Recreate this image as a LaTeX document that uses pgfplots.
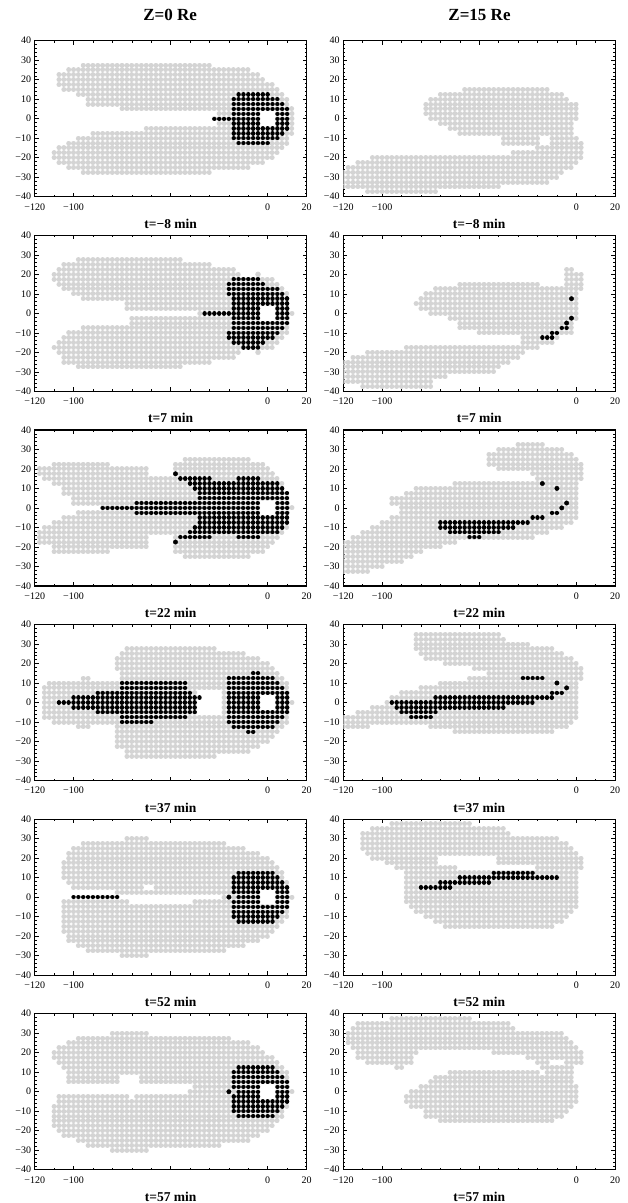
\documentclass[border=0pt]{standalone}
\usepackage{fontspec}
\setmainfont{Liberation Serif}
\usepackage{pgfplots}
\pgfplotsset{compat=1.18}
\definecolor{lgray}{RGB}{212,212,212}
\pgfplotsset{
  panel/.style={
    anchor=north west,
    x=1.942pt, y=1.95pt,
    xmin=-120, xmax=20, ymin=-40, ymax=40,
    axis line style={line width=1.2pt},
    tick align=inside,
    xtick={-120,-100,-50,0,20},
    xticklabels={−120,−100,,0,20},
    minor xtick={-110,-90,-80,-70,-60,-40,-30,-20,-10,10},
    ytick={-40,-30,-20,-10,0,10,20,30,40},
    yticklabels={−40,−30,−20,−10,0,10,20,30,40},
    minor y tick num=4,
    major tick length=4pt, minor tick length=2pt,
    tick style={black, line width=0.6pt},
    tick label style={font=\fontsize{10}{11}\selectfont, inner sep=1.5pt},
    xticklabel style={yshift=-5pt},
    yticklabel style={xshift=-2pt},
    xlabel style={font=\bfseries\fontsize{13.5}{15}\selectfont, at={(axis description cs:0.5,0)}, anchor=center, yshift=-27pt},
  },
  gdots/.style={draw=lgray, line width=5pt, line cap=round, dash pattern=on 0.01pt off 4.835pt, mark=none, quiver={u={\thisrow{b}-\thisrow{a}}, v=0}},
  bdots/.style={draw=black, line width=4.4pt, line cap=round, dash pattern=on 0.01pt off 4.835pt, mark=none, quiver={u={\thisrow{b}-\thisrow{a}}, v=0}},
  bsingle/.style={only marks, mark=*, mark size=2.2pt, black, mark options={draw=black, fill=black}},
  gsingle/.style={only marks, mark=*, mark size=2.5pt, mark options={draw=lgray, fill=lgray}},
}
\begin{document}
\begin{tikzpicture}
\path[use as bounding box] (0pt,0pt) rectangle (628pt,-1203pt);
\node[font=\bfseries\fontsize{17}{19}\selectfont] at (170.2pt,-15pt) {Z=0 Re};
\node[font=\bfseries\fontsize{17}{19}\selectfont] at (479.5pt,-15pt) {Z=15 Re};

% ---------- Row 1: t=-8 min ----------
\begin{axis}[panel, at={(34.7pt,-40.7pt)}, xlabel={t=−8 min}]
\addplot[gdots] table[x=a,y=r]{
r a b
27.5 -95 -30
25 -102.5 -10
22.5 -107.5 -5
20 -107.5 -2.5
17.5 -107.5 2.5
15 -105 5
12.5 -97.5 7.5
10 -92.5 10
7.5 -92.5 10
5 -75 12.5
2.5 -25 -5
2.5 5 12.5
0 -27.5 -5
0 5 12.5
-2.5 -25 -5
-2.5 5 12.5
-5 -62.5 12.5
-7.5 -90 12.5
-10 -97.5 10
-12.5 -102.5 10
-15 -107.5 7.5
-17.5 -110 5
-20 -110 2.5
-22.5 -107.5 -2.5
-25 -102.5 -10
-27.5 -95 -30
};
\addplot[bdots] table[x=a,y=r]{
r a b
12.5 -15 0
10 -17.5 5
7.5 -17.5 7.5
5 -17.5 10
2.5 -17.5 -5
2.5 5 10
0 -27.5 -5
0 5 10
-2.5 -17.5 -5
-2.5 5 10
-5 -17.5 10
-7.5 -17.5 7.5
-10 -17.5 5
-12.5 -15 0
};
\end{axis}
\begin{axis}[panel, at={(343.3pt,-40.7pt)}, xlabel={t=−8 min}]
\addplot[gdots] table[x=a,y=r]{
r a b
15 -57.5 -15
12.5 -70 -7.5
10 -75 -5
7.5 -77.5 0
5 -77.5 0
2.5 -77.5 0
0 -75 0
-2.5 -70 -2.5
-5 -65 -2.5
-7.5 -60 -2.5
-10 -37.5 -20
-10 -12.5 0
-12.5 -37.5 -20
-12.5 -12.5 2.5
-15 -20 2.5
-17.5 -32.5 2.5
-20 -105 2.5
-22.5 -112.5 0
-25 -117.5 -2.5
-27.5 -120 -7.5
-30 -120 -10
-32.5 -120 -15
-35 -120 -40
-37.5 -107.5 -72.5
};
\end{axis}

% ---------- Row 2: t=7 min ----------
\begin{axis}[panel, at={(34.7pt,-235.3pt)}, xlabel={t=7 min}]
\addplot[gdots] table[x=a,y=r]{
r a b
27.5 -97.5 -45
25 -105 -30
22.5 -107.5 -17.5
20 -110 -15
17.5 -110 2.5
15 -107.5 5
12.5 -105 7.5
10 -100 10
7.5 -95 10
5 -72.5 10
2.5 -72.5 -5
2.5 5 10
0 -35 -5
0 5 12.5
-2.5 -70 -5
-2.5 5 10
-5 -70 10
-7.5 -95 10
-10 -102.5 10
-12.5 -105 7.5
-15 -107.5 5
-17.5 -110 2.5
-20 -107.5 -15
-22.5 -105 -17.5
-25 -105 -30
-27.5 -97.5 -45
};
\addplot[gsingle] coordinates {(-5,20) (-5,-20)};
\addplot[bdots] table[x=a,y=r]{
r a b
17.5 -17.5 -5
15 -20 -2.5
12.5 -20 5
10 -20 7.5
7.5 -17.5 10
5 -17.5 10
2.5 -17.5 -5
2.5 5 10
0 -32.5 -5
0 5 10
-2.5 -17.5 -5
-2.5 5 10
-5 -17.5 10
-7.5 -17.5 7.5
-10 -20 5
-12.5 -20 2.5
-15 -17.5 -2.5
-17.5 -12.5 -5
};
\end{axis}
\begin{axis}[panel, at={(343.3pt,-235.3pt)}, xlabel={t=7 min}]
\addplot[gdots] table[x=a,y=r]{
r a b
22.5 -5 -2.5
20 -5 2.5
17.5 -5 2.5
15 -60 -20
15 -5 2.5
12.5 -72.5 2.5
10 -77.5 0
7.5 -80 0
5 -82.5 0
2.5 -80 0
0 -75 0
-2.5 -65 0
-5 -60 -2.5
-7.5 -60 -2.5
-10 -50 -2.5
-12.5 -27.5 -10
-15 -27.5 -12.5
-17.5 -87.5 -20
-20 -107.5 -27.5
-22.5 -115 -30
-25 -120 -35
-27.5 -120 -40
-30 -120 -42.5
-32.5 -120 -67.5
-35 -120 -75
-37.5 -110 -75
};
\addplot[bdots] table[x=a,y=r]{
r a b
-7.5 -7.5 -5
-10 -12.5 -10
-12.5 -17.5 -12.5
};
\addplot[bsingle] coordinates {(-2.5,7.5) (-2.5,-2.5) (-5,-5)};
\end{axis}

% ---------- Row 3: t=22 min ----------
\begin{axis}[panel, at={(34.7pt,-429.9pt)}, xlabel={t=22 min}]
\addplot[gdots] table[x=a,y=r]{
r a b
25 -42.5 -10
22.5 -110 -82.5
22.5 -47.5 -2.5
20 -117.5 -62.5
20 -47.5 0
17.5 -117.5 -62.5
17.5 -47.5 2.5
15 -115 5
12.5 -110 7.5
10 -105 7.5
7.5 -105 10
5 -100 10
2.5 -100 -5
2.5 5 10
0 -85 -5
0 5 12.5
-2.5 -97.5 -5
-2.5 5 10
-5 -105 10
-7.5 -110 10
-10 -115 10
-12.5 -117.5 7.5
-15 -117.5 -62.5
-15 -47.5 5
-17.5 -117.5 -62.5
-17.5 -47.5 2.5
-20 -110 -62.5
-20 -47.5 0
-22.5 -110 -82.5
-22.5 -47.5 -2.5
-25 -42.5 -10
};
\addplot[bdots] table[x=a,y=r]{
r a b
15 -45 -30
15 -15 -5
12.5 -40 5
10 -37.5 7.5
7.5 -35 10
5 -35 10
2.5 -67.5 -5
2.5 5 10
0 -85 -5
0 5 10
-2.5 -67.5 -5
-2.5 5 10
-5 -35 10
-7.5 -35 10
-10 -37.5 7.5
-12.5 -40 5
-15 -45 -30
-15 -15 -5
};
\addplot[bsingle] coordinates {(-47.5,17.5) (-47.5,-17.5)};
\end{axis}
\begin{axis}[panel, at={(343.3pt,-429.9pt)}, xlabel={t=22 min}]
\addplot[gdots] table[x=a,y=r]{
r a b
32.5 -30 -17.5
30 -40 -7.5
27.5 -45 -2.5
25 -45 0
22.5 -45 2.5
20 -40 2.5
17.5 -22.5 2.5
15 -20 2.5
12.5 -62.5 0
10 -82.5 0
7.5 -87.5 0
5 -95 0
2.5 -95 0
0 -90 0
-2.5 -90 0
-5 -95 0
-7.5 -100 -2.5
-10 -105 -7.5
-12.5 -110 -15
-15 -115 -22.5
-17.5 -120 -62.5
-20 -120 -70
-22.5 -120 -80
-25 -120 -85
-27.5 -120 -90
-30 -120 -100
-32.5 -120 -107.5
};
\addplot[bdots] table[x=a,y=r]{
r a b
-2.5 -12.5 -10
-5 -22.5 -17.5
-7.5 -70 -25
-10 -70 -32.5
-12.5 -65 -40
-15 -55 -50
};
\addplot[bsingle] coordinates {(-17.5,12.5) (-10,10) (-5,2.5) (-7.5,0)};
\end{axis}

% ---------- Row 4: t=37 min ----------
\begin{axis}[panel, at={(34.7pt,-624.5pt)}, xlabel={t=37 min}]
\addplot[gdots] table[x=a,y=r]{
r a b
27.5 -72.5 -27.5
25 -75 -12.5
22.5 -77.5 -5
20 -77.5 0
17.5 -77.5 2.5
15 -75 5
12.5 -95 -92.5
12.5 -75 7.5
10 -112.5 10
7.5 -115 10
5 -115 -37.5
5 -22.5 10
2.5 -115 -37.5
2.5 -22.5 -5
2.5 5 10
0 -115 -37.5
0 -22.5 -5
0 5 12.5
-2.5 -115 -37.5
-2.5 -22.5 -5
-2.5 5 10
-5 -115 -37.5
-5 -22.5 10
-7.5 -115 10
-10 -110 10
-12.5 -97.5 -92.5
-12.5 -77.5 7.5
-15 -77.5 5
-17.5 -77.5 2.5
-20 -77.5 0
-22.5 -77.5 -5
-25 -72.5 -10
-27.5 -72.5 -27.5
};
\addplot[bdots] table[x=a,y=r]{
r a b
15 -7.5 -5
12.5 -20 2.5
10 -75 -42.5
10 -20 5
7.5 -75 -42.5
7.5 -20 7.5
5 -87.5 -40
5 -20 10
2.5 -100 -35
2.5 -20 -5
2.5 5 10
0 -107.5 -37.5
0 -20 -5
0 5 10
-2.5 -100 -37.5
-2.5 -20 -5
-2.5 5 10
-5 -87.5 -37.5
-5 -20 10
-7.5 -75 -42.5
-7.5 -20 7.5
-10 -75 -60
-10 -20 5
-12.5 -17.5 2.5
-15 -10 -7.5
};
\end{axis}
\begin{axis}[panel, at={(343.3pt,-624.5pt)}, xlabel={t=37 min}]
\addplot[gdots] table[x=a,y=r]{
r a b
35 -82.5 -40
32.5 -82.5 -37.5
30 -82.5 -25
27.5 -82.5 -12.5
25 -80 -7.5
22.5 -77.5 -2.5
20 -67.5 0
17.5 -52.5 2.5
15 -45 2.5
12.5 -55 2.5
10 -70 0
7.5 -80 0
5 -90 0
2.5 -95 0
0 -97.5 0
-2.5 -105 0
-5 -112.5 0
-7.5 -120 0
-10 -120 -2.5
-12.5 -120 -107.5
-12.5 -75 -5
-15 -62.5 -12.5
};
\addplot[bdots] table[x=a,y=r]{
r a b
12.5 -27.5 -17.5
5 -12.5 -7.5
2.5 -72.5 -12.5
0 -95 -22.5
-2.5 -92.5 -37.5
-5 -90 -72.5
-7.5 -85 -75
};
\addplot[bsingle] coordinates {(-10,10) (-5,7.5)};
\end{axis}

% ---------- Row 5: t=52 min ----------
\begin{axis}[panel, at={(34.7pt,-819.1pt)}, xlabel={t=52 min}]
\addplot[gdots] table[x=a,y=r]{
r a b
30 -72.5 -62.5
27.5 -95 -22.5
25 -100 -12.5
22.5 -102.5 -5
20 -102.5 0
17.5 -105 2.5
15 -105 5
12.5 -105 7.5
10 -105 7.5
7.5 -102.5 10
5 -100 -65
5 -57.5 10
2.5 -77.5 -5
2.5 5 10
0 -22.5 -5
0 5 12.5
-2.5 -105 -72.5
-2.5 -37.5 -5
-2.5 5 10
-5 -105 10
-7.5 -105 10
-10 -105 10
-12.5 -105 7.5
-15 -105 5
-17.5 -105 2.5
-20 -102.5 0
-22.5 -102.5 -5
-25 -97.5 -12.5
-27.5 -92.5 -22.5
-30 -75 -62.5
};
\addplot[bdots] table[x=a,y=r]{
r a b
12.5 -15 2.5
10 -17.5 5
7.5 -17.5 7.5
5 -17.5 10
2.5 -17.5 -5
2.5 5 10
0 -100 -77.5
0 -15 -5
0 5 10
-2.5 -17.5 -5
-2.5 5 10
-5 -17.5 10
-7.5 -17.5 7.5
-10 -17.5 5
-12.5 -15 2.5
};
\addplot[bsingle] coordinates {(-20,0)};
\end{axis}
\begin{axis}[panel, at={(343.3pt,-819.1pt)}, xlabel={t=52 min}]
\addplot[gdots] table[x=a,y=r]{
r a b
37.5 -95 -55
35 -105 -37.5
32.5 -110 -35
30 -110 -10
27.5 -110 -5
25 -110 -2.5
22.5 -107.5 0
20 -105 -72.5
20 -40 2.5
17.5 -97.5 -72.5
17.5 -40 2.5
15 -92.5 -62.5
15 -20 2.5
12.5 -87.5 0
10 -87.5 0
7.5 -87.5 0
5 -87.5 0
2.5 -87.5 0
0 -87.5 0
-2.5 -87.5 0
-5 -85 0
-7.5 -82.5 -2.5
-10 -77.5 -5
-12.5 -72.5 -7.5
-15 -67.5 -12.5
};
\addplot[bdots] table[x=a,y=r]{
r a b
12.5 -42.5 -22.5
10 -60 -10
7.5 -70 -45
5 -80 -65
};
\end{axis}

% ---------- Row 6: t=57 min ----------
\begin{axis}[panel, at={(34.7pt,-1013.7pt)}, xlabel={t=57 min}]
\addplot[gdots] table[x=a,y=r]{
r a b
30 -80 -62.5
27.5 -97.5 -20
25 -102.5 -10
22.5 -107.5 -5
20 -110 -2.5
17.5 -110 2.5
15 -107.5 5
12.5 -105 7.5
10 -102.5 10
7.5 -102.5 -77.5
7.5 -65 10
5 -102.5 -77.5
5 -65 10
2.5 -37.5 -5
2.5 5 10
0 -40 -5
0 5 12.5
-2.5 -107.5 -72.5
-2.5 -67.5 -5
-2.5 5 10
-5 -107.5 10
-7.5 -110 10
-10 -110 7.5
-12.5 -110 7.5
-15 -110 5
-17.5 -110 2.5
-20 -107.5 0
-22.5 -105 -5
-25 -97.5 -10
-27.5 -92.5 -25
-30 -80 -62.5
};
\addplot[bdots] table[x=a,y=r]{
r a b
12.5 -15 2.5
10 -17.5 5
7.5 -17.5 7.5
5 -17.5 10
2.5 -17.5 -5
2.5 5 10
0 -15 -5
0 5 10
-2.5 -17.5 -5
-2.5 5 10
-5 -17.5 10
-7.5 -17.5 7.5
-10 -17.5 5
-12.5 -15 2.5
};
\addplot[bsingle] coordinates {(-20,0)};
\end{axis}
\begin{axis}[panel, at={(343.3pt,-1013.7pt)}, xlabel={t=57 min}]
\addplot[gdots] table[x=a,y=r]{
r a b
37.5 -95 -55
35 -112.5 -35
32.5 -115 -32.5
30 -117.5 -7.5
27.5 -117.5 -5
25 -117.5 -2.5
22.5 -115 0
20 -112.5 -82.5
20 -42.5 2.5
17.5 -112.5 -85
17.5 -25 2.5
15 -107.5 -85
15 -20 -15
15 -5 2.5
12.5 -92.5 -90
12.5 -17.5 -2.5
10 -65 -20
10 -15 -2.5
7.5 -72.5 -2.5
5 -75 -2.5
2.5 -80 0
0 -85 0
-2.5 -87.5 0
-5 -87.5 0
-7.5 -85 -2.5
-10 -77.5 -5
-12.5 -77.5 -7.5
-15 -70 -12.5
};
\end{axis}
\end{tikzpicture}
\end{document}
